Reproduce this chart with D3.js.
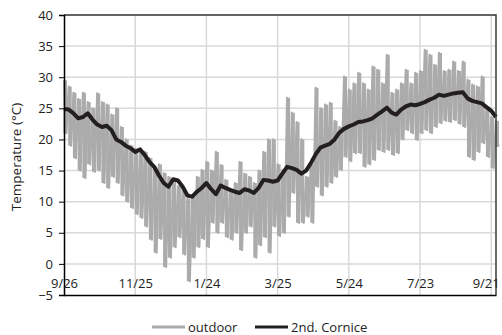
<!DOCTYPE html>
<html lang="en">
<head>
    <meta charset="UTF-8">
    <title>Temperature: outdoor vs 2nd. Cornice</title>
    <script src="https://d3js.org/d3.v7.min.js"></script>
    <style>
        body { margin: 0; background: #fff; }
        text { font-family: "Open Sans", sans-serif; fill: #222; }
    </style>
</head>
<body>
    <svg id="chart"></svg>
    <script>
        // samples every 4 days starting 2013-09-26
        const startDate = new Date(Date.UTC(2013, 8, 26));
        const stepDays = 4;
        const outdoorHigh = [29.5, 28.5, 27.5, 26.5, 27.5, 26, 25, 27.4, 26, 25.6, 24, 25, 22, 20, 19, 18.5,
            17.8, 18, 17, 15.5, 16, 14.6, 14, 13.5, 12.5, 12, 10.5, 11, 14, 15.1, 16.4, 15, 18, 15.9, 13.5, 12,
            13, 16.4, 14.5, 14, 13, 15, 18, 20, 20, 16, 15.1, 26.7, 24.3, 22.8, 20, 14, 16, 28.3, 25, 25.6,
            25.9, 23, 22, 30.1, 28, 29, 30.7, 29, 28, 31.7, 31.2, 29, 33.6, 27.5, 28, 29, 31.2, 29, 30.7, 31,
            34.4, 33.6, 32, 33.9, 31, 31.2, 32.5, 31, 32.5, 29.6, 28.8, 28.5, 30.1, 25.2, 23.6, 23];
        const outdoorLow = [21, 19, 17, 15, 13.8, 16, 14.8, 15, 13, 12.2, 14, 13, 11, 10, 9, 8,
            7.4, 6, 3.9, 1.8, 4, -0.5, 1, 2.7, 4.3, 1.5, -2.8, 1, 2.7, 4, 2.7, 6.6, 5, 6.6, 4.3, 3.9,
            5, 2.2, 5, 6, 1, 3, 4.3, 1.8, 6, 4.5, 5, 7.6, 11.4, 6.6, 6.6, 7.6, 6.6, 12.4, 11, 12.4,
            13, 14, 15.1, 17.2, 16.5, 17.8, 17.8, 15.6, 16, 16.7, 18.3, 18, 18.3, 17.5, 17.8, 20, 21.5, 21, 19.9, 21,
            21.5, 21, 22, 22.6, 23, 22.8, 23.1, 22.5, 22, 17.2, 16.7, 18, 19.4, 17.2, 15.4, 18.8];
        const cornice = [24.9, 24.8, 24.2, 23.4, 23.6, 24.2, 23.2, 22.4, 22, 22.2, 21.5, 20, 19.6, 19, 18.6, 18,
            18.4, 17.5, 16.4, 15.6, 14.2, 13, 12.4, 13.6, 13.4, 12.4, 11, 10.8, 11.6, 12.2, 13, 12, 11.2, 12.6, 12.2, 11.9,
            11.6, 11.4, 12, 11.8, 11.4, 12.2, 13.5, 13.4, 13.2, 13.4, 14.5, 15.6, 15.4, 15.1, 14.5, 15, 16.2, 17.6, 18.7, 19,
            19.3, 20, 21.1, 21.7, 22.1, 22.4, 22.8, 22.9, 23.1, 23.4, 24, 24.5, 25.1, 24.3, 24, 24.8, 25.3, 25.6, 25.5, 25.7,
            26, 26.4, 26.7, 27.2, 27, 27.2, 27.4, 27.5, 27.6, 26.6, 26.2, 26, 25.8, 25.2, 24.6, 23.6];
        const yTicks = [-5, 0, 5, 10, 15, 20, 25, 30, 35, 40];
        const xTickLabels = ["9/26", "11/25", "1/24", "3/25", "5/24", "7/23", "9/21"];
        const seriesNames = ["outdoor", "2nd. Cornice"];

        const width = 502, height = 335;
        const margin = {top: 15, right: 6, bottom: 40, left: 64};
        const svg = d3.select("#chart").attr("width", width).attr("height", height);

        const dayMs = 864e5;
        const day = n => new Date(startDate.getTime() + n * dayMs);
        const xTickDates = xTickLabels.map((_, i) => day(i * 60));

        const x = d3.scaleUtc().domain([startDate, day(364)]).range([margin.left, width - margin.right]);
        const y = d3.scaleLinear().domain([-5, 40]).range([height - margin.bottom, margin.top]);

        // gridlines
        svg.append("g").selectAll("line").data(yTicks.slice(1)).join("line")
            .attr("x1", margin.left).attr("x2", width - margin.right)
            .attr("y1", d => y(d)).attr("y2", d => y(d))
            .attr("stroke", "#d9d9d9").attr("stroke-width", 1.5);
        svg.append("g").selectAll("line").data(xTickDates.slice(1)).join("line")
            .attr("x1", d => x(d)).attr("x2", d => x(d))
            .attr("y1", margin.top).attr("y2", y(-5))
            .attr("stroke", "#d9d9d9").attr("stroke-width", 1.5);

        const gray = "#ababab";
        // outdoor: daily swing as a narrow band per sample, plus zigzag through high/low readings
        const barW = x(day(3)) - x(day(0));
        svg.append("g").selectAll("rect").data(outdoorHigh).join("rect")
            .attr("x", (d, i) => x(day(i * stepDays + 1)) - barW / 2)
            .attr("width", barW)
            .attr("y", d => y(d))
            .attr("height", (d, i) => y(outdoorLow[i]) - y(d))
            .attr("fill", gray);

        const outdoorPts = [];
        outdoorHigh.forEach((h, i) => {
            outdoorPts.push([day(i * stepDays), h]);
            outdoorPts.push([day(i * stepDays + stepDays / 2), outdoorLow[i]]);
        });
        const line = d3.line().x(d => x(d[0])).y(d => y(d[1]));
        svg.append("path").datum(outdoorPts).attr("d", line)
            .attr("fill", "none").attr("stroke", gray).attr("stroke-width", 2.2)
            .attr("stroke-linejoin", "round");

        svg.append("path").datum(cornice.map((v, i) => [day(i * stepDays), v])).attr("d", line)
            .attr("fill", "none").attr("stroke", "#231f20").attr("stroke-width", 4)
            .attr("stroke-linejoin", "round");

        // plot border (top/right)
        svg.append("path")
            .attr("d", `M${margin.left},${margin.top}H${width - margin.right}V${y(-5)}`)
            .attr("fill", "none").attr("stroke", "#3a3a3a").attr("stroke-width", 1.5);

        // y axis
        const yAxis = svg.append("g").attr("transform", `translate(${margin.left},0)`)
            .call(d3.axisLeft(y).tickValues(yTicks).tickSize(5).tickPadding(6));
        yAxis.select(".domain").attr("stroke", "#000").attr("stroke-width", 1.5);
        yAxis.selectAll(".tick line").attr("stroke", "#000");
        yAxis.selectAll("text").attr("font-size", 13).attr("font-family", "Open Sans").attr("fill", "#222");

        // x axis at -5 with labels just above it
        const xAxis = svg.append("g").attr("transform", `translate(0,${y(-5)})`)
            .call(d3.axisBottom(x).tickValues(xTickDates).tickSize(0).tickFormat((d, i) => xTickLabels[i]));
        xAxis.select(".domain").attr("stroke", "#000").attr("stroke-width", 1.5);
        xAxis.selectAll("text").attr("font-size", 13).attr("font-family", "Open Sans").attr("fill", "#222")
            .attr("y", -7).attr("dy", 0);
        // last label is squeezed against the right edge
        xAxis.selectAll(".tick:last-of-type text").attr("text-anchor", "end").attr("x", 8);

        svg.append("text")
            .attr("transform", `translate(21,${(margin.top + y(-5)) / 2 + 2}) rotate(-90)`)
            .attr("text-anchor", "middle").attr("font-size", 13.5)
            .text("Temperature (\u00B0C)");

        // legend
        const legend = svg.append("g").attr("transform", "translate(152,327)");
        const legendItems = [
            {name: seriesNames[0], color: gray, dx: 0},
            {name: seriesNames[1], color: "#231f20", dx: 103}
        ];
        legendItems.forEach(it => {
            legend.append("line").attr("x1", it.dx).attr("x2", it.dx + 33)
                .attr("stroke", it.color).attr("stroke-width", 3);
            legend.append("text").attr("x", it.dx + 36).attr("y", 5)
                .attr("font-size", 13).text(it.name);
        });
    </script>
</body>
</html>
